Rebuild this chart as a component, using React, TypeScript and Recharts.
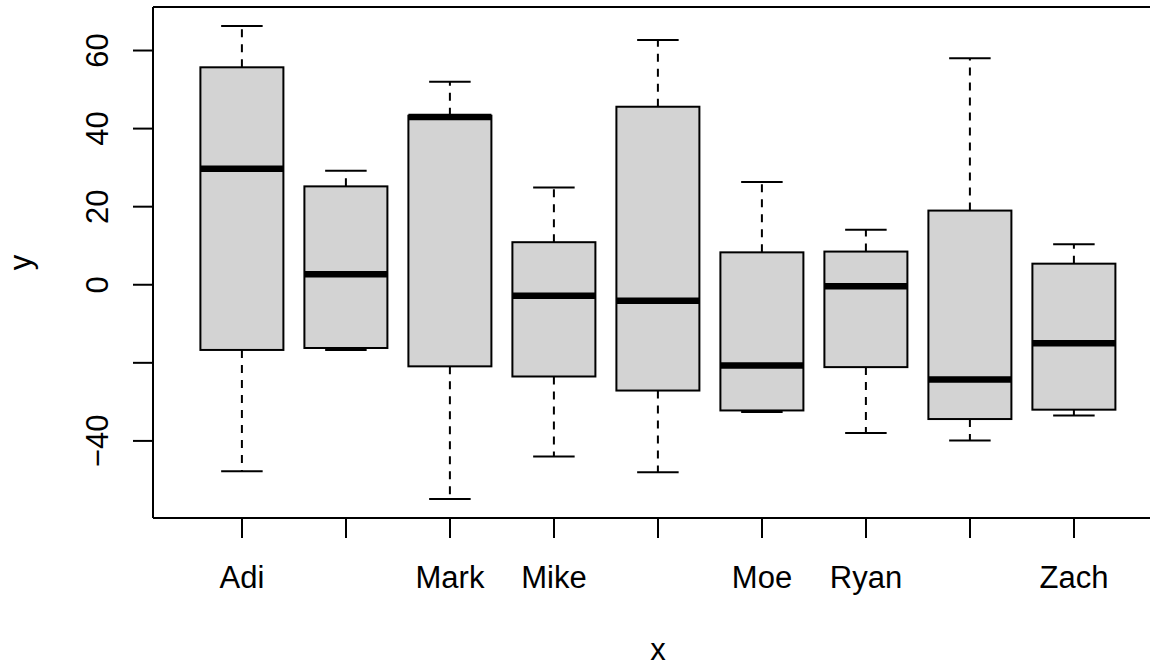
import React from 'react';
import { ComposedChart, Bar, XAxis, YAxis, ReferenceLine } from 'recharts';

// groups, in the order R plotted them (alphabetical)
const names = ['Adi', 'Jonathan', 'Mark', 'Mike', 'Mitchell', 'Moe', 'Ryan', 'Samantha', 'Zach'];
// R drops axis labels that would overlap their neighbour
const hiddenNames = ['Jonathan', 'Mitchell', 'Samantha'];

// five-number summaries
const lowerWhisker = [-47.8, -16.7, -54.9, -44.0, -48.0, -32.6, -38.0, -39.9, -33.5];
const lowerHinge = [-16.7, -16.2, -20.9, -23.5, -27.1, -32.2, -21.1, -34.4, -32.0];
const medians = [29.7, 2.7, 43.0, -2.8, -4.1, -20.7, -0.4, -24.3, -15.0];
const upperHinge = [55.7, 25.2, 43.3, 10.9, 45.6, 8.3, 8.5, 19.0, 5.4];
const upperWhisker = [66.3, 29.2, 52.0, 24.9, 62.7, 26.3, 14.1, 58.0, 10.4];

const yTicks = [-40, -20, 0, 20, 40, 60];
const hiddenYLabels = [-20];

const data = names.map((name, i) => ({
  name,
  low: lowerWhisker[i],
  q1: lowerHinge[i],
  median: medians[i],
  q3: upperHinge[i],
  high: upperWhisker[i],
}));

// R pads the data range by 4% on each side
const dataMin = Math.min(...lowerWhisker);
const dataMax = Math.max(...upperWhisker);
const pad = (dataMax - dataMin) * 0.04;
const yDomain = [dataMin - pad, dataMax + pad];

const FONT = '"Liberation Sans", Arial, Helvetica, sans-serif';
const FONT_SIZE = 31;
const LWD = 2;

const BoxShape = (props: any) => {
  const { x, y, width, height, payload } = props;
  const top = Math.min(y, y + height);
  const h = Math.abs(height);
  // linear y scale: map a value inside the [low, high] bar to pixels
  const py = (v: number) => top + (h * (payload.high - v)) / (payload.high - payload.low);
  const cx = x + width / 2;
  const cap = width / 4;
  const yQ3 = py(payload.q3);
  const yQ1 = py(payload.q1);
  return (
    <g>
      <line x1={cx} x2={cx} y1={yQ3} y2={py(payload.high)} stroke="#000" strokeWidth={LWD} strokeDasharray="8 7" />
      <line x1={cx} x2={cx} y1={yQ1} y2={py(payload.low)} stroke="#000" strokeWidth={LWD} strokeDasharray="8 7" />
      <line x1={cx - cap} x2={cx + cap} y1={py(payload.high)} y2={py(payload.high)} stroke="#000" strokeWidth={LWD} />
      <line x1={cx - cap} x2={cx + cap} y1={py(payload.low)} y2={py(payload.low)} stroke="#000" strokeWidth={LWD} />
      <rect x={x} y={yQ3} width={width} height={yQ1 - yQ3} fill="#d3d3d3" stroke="#000" strokeWidth={LWD} />
      <line x1={x} x2={x + width} y1={py(payload.median)} y2={py(payload.median)} stroke="#000" strokeWidth={6.5} />
    </g>
  );
};

const XTick = (props: any) => {
  const { x, y, payload } = props;
  return (
    <g>
      <line x1={x} x2={x} y1={y} y2={y + 20} stroke="#000" strokeWidth={LWD} />
      {!hiddenNames.includes(payload.value) && (
        <text x={x} y={y + 70} textAnchor="middle" fontFamily={FONT} fontSize={FONT_SIZE} fill="#000">
          {payload.value}
        </text>
      )}
    </g>
  );
};

const YTick = (props: any) => {
  const { x, y, payload } = props;
  const label = payload.value < 0 ? '\u2212' + Math.abs(payload.value) : String(payload.value);
  return (
    <g>
      <line x1={x - 20} x2={x} y1={y} y2={y} stroke="#000" strokeWidth={LWD} />
      {!hiddenYLabels.includes(payload.value) && (
        <text
          x={x - 45}
          y={y}
          transform={`rotate(-90, ${x - 45}, ${y})`}
          textAnchor="middle"
          fontFamily={FONT}
          fontSize={FONT_SIZE}
          fill="#000"
        >
          {label}
        </text>
      )}
    </g>
  );
};

const YTitle = (props: any) => {
  const { viewBox } = props;
  const cy = viewBox.y + viewBox.height / 2;
  return (
    <text x={31} y={cy} transform={`rotate(-90, 31, ${cy})`} textAnchor="middle" fontFamily={FONT} fontSize={FONT_SIZE} fill="#000">
      y
    </text>
  );
};

const XTitle = (props: any) => {
  const { viewBox } = props;
  return (
    <text x={viewBox.x + viewBox.width / 2} y={viewBox.y + 142} textAnchor="middle" fontFamily={FONT} fontSize={FONT_SIZE} fill="#000">
      x
    </text>
  );
};

export default function App() {
  return (
    <div style={{ position: 'absolute', left: 0, top: 0, width: 1150, height: 666, overflow: 'hidden', background: '#fff' }}>
      <ComposedChart width={1170} height={666} data={data} margin={{ top: 7, right: 7, left: 0, bottom: 0 }} barCategoryGap="10%">
        <XAxis
          dataKey="name"
          height={148}
          padding={{ left: 37, right: 37 }}
          interval={0}
          tickSize={0}
          tickMargin={0}
          tickLine={false}
          axisLine={{ stroke: '#000', strokeWidth: LWD }}
          tick={<XTick />}
          label={(p: any) => <XTitle {...p} />}
        />
        <YAxis
          type="number"
          width={153}
          domain={yDomain}
          ticks={yTicks}
          interval={0}
          allowDataOverflow
          tickSize={0}
          tickMargin={0}
          tickLine={false}
          axisLine={{ stroke: '#000', strokeWidth: LWD }}
          tick={<YTick />}
          label={(p: any) => <YTitle {...p} />}
        />
        {/* top edge of the plot frame */}
        <ReferenceLine y={yDomain[1]} stroke="#000" strokeWidth={LWD} />
        <Bar dataKey={(d: any) => [d.low, d.high]} shape={<BoxShape />} isAnimationActive={false} />
      </ComposedChart>
    </div>
  );
}
